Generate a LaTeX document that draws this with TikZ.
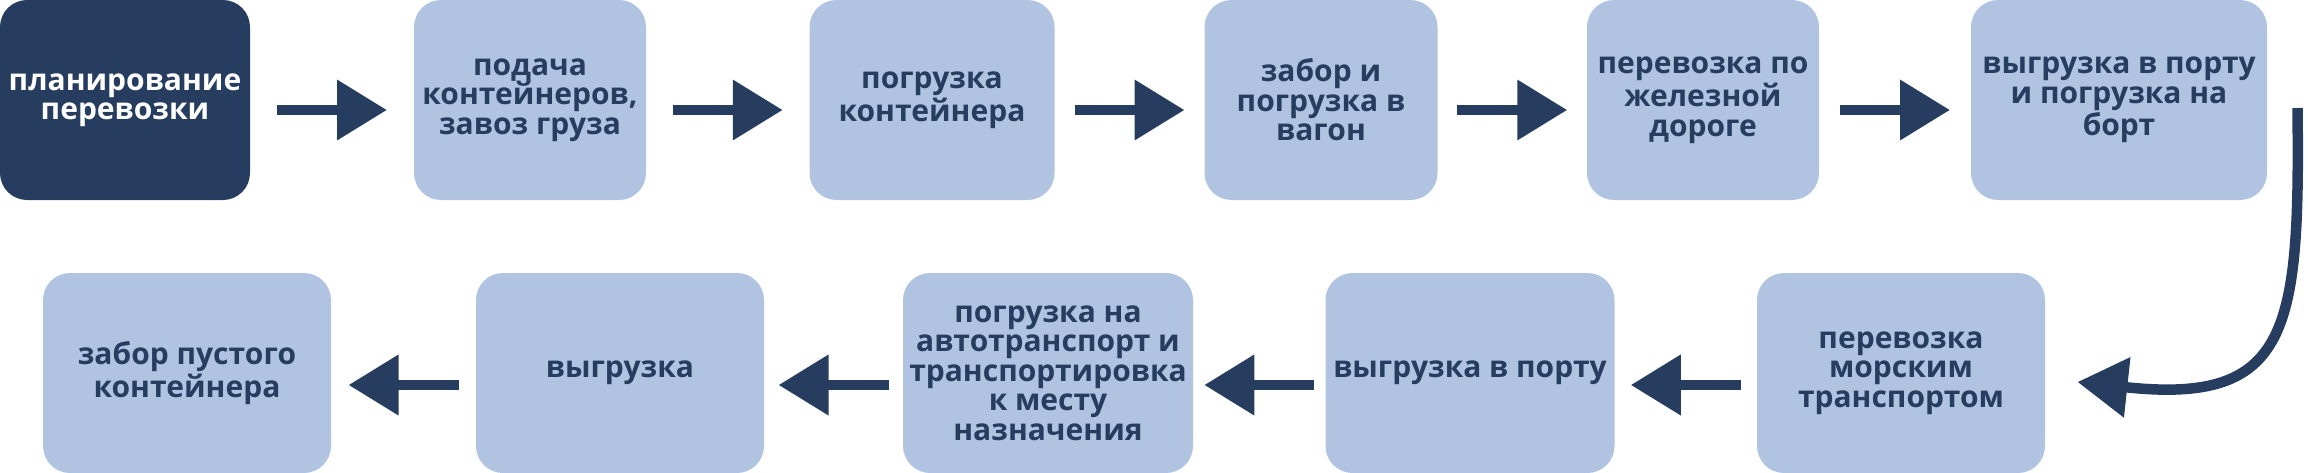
\documentclass[tikz,border=0pt]{standalone}
\usepackage{fontspec}
\setmainfont{Open Sans}
\usepackage{tikz}
\usetikzlibrary{arrows.meta,calc}
\definecolor{navy}{HTML}{263D60}
\definecolor{pale}{HTML}{B0C4E2}

\begin{document}
\begin{tikzpicture}[x=0.4pt, y=-0.4pt,
	box/.style={fill=pale, text=navy, rounded corners=10.8pt, inner sep=0pt, align=center,
		minimum width=#1*0.4pt, minimum height=200*0.4pt, font=\fontsize{12}{11.8}\selectfont\bfseries},
	flow/.style={draw=navy, line width=4.2pt, -{Triangle[length=20pt,width=23.2pt]}}]
	\useasboundingbox (0,0) rectangle (2308,473);
	% upper row, left to right
	\node[box=250, fill=navy, text=white] (plan) at (125,100) {планирование\\перевозки};
	\node[box=232] (supply) at (530,100) {подача\\контейнеров,\\завоз груза};
	\node[box=245] (load) at (932,100) {погрузка\\контейнера};
	\node[box=233] (wagon) at (1321,100) {забор и\\погрузка в\\вагон};
	\node[box=232] (rail) at (1703,100) {перевозка по\\железной\\дороге};
	\node[box=296] (port) at (2119,100) {выгрузка в порту\\и погрузка на\\борт};
	% lower row, right to left
	\node[box=288] (sea) at (1901,373) {перевозка\\морским\\транспортом};
	\node[box=289] (unload) at (1470,373) {выгрузка в порту};
	\node[box=290] (truck) at (1048,373) {погрузка на\\автотранспорт и\\транспортировка\\к месту\\назначения};
	\node[box=288] (unpack) at (620,373) {выгрузка};
	\node[box=288] (empty) at (187,373) {забор пустого\\контейнера};
	\foreach \a/\b in {plan/supply, supply/load, load/wagon, wagon/rail, rail/port}
		\draw[flow] ($(\a.east)!.5!(\b.west)+(-55,10)$) -- ++(110,0);
	\foreach \a/\b in {sea/unload, unload/truck, truck/unpack, unpack/empty}
		\draw[flow] ($(\a.west)!.5!(\b.east)+(55,12)$) -- ++(-110,0);
	\coordinate (drop) at ($(port.east)+(30,8)$);
	\draw[flow] (drop) .. controls (2300,330) and (2290,405) .. ($(sea.east)+(32,9)$);
\end{tikzpicture}
\end{document}
